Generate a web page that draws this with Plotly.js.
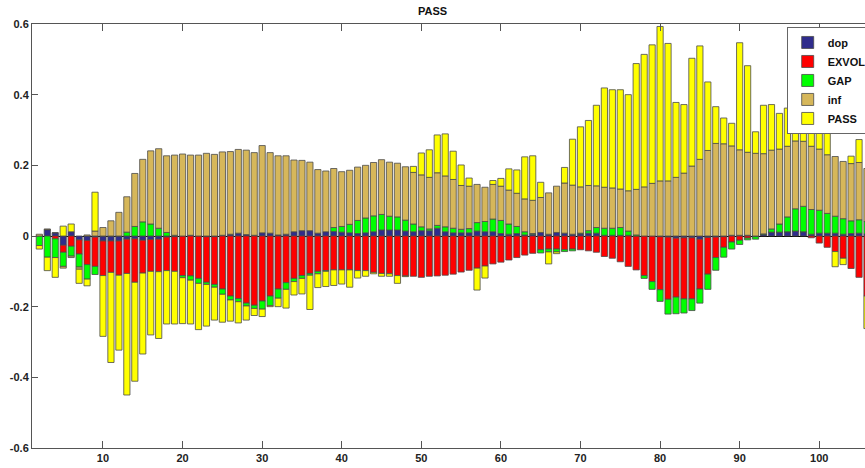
<!DOCTYPE html>
<html>
<head>
<meta charset="utf-8">
<script src="https://cdn.plot.ly/plotly-3.0.1.min.js"></script>
<style>html,body{margin:0;padding:0;background:#fff;}#chart{width:865px;height:468px;}</style>
</head>
<body>
<div id="chart"></div>
<script>
// x positions 2..106
const xStart = 2;
const dop = [0,0.018,0.009,-0.026,0.012,-0.011,-0.013,-0.003,-0.014,-0.014,-0.014,-0.009,-0.008,-0.012,-0.01,-0.009,-0.003,-0.002,0,0.002,0,-0.002,-0.002,0.002,0.005,0.008,0.004,0.002,0.009,0.008,0.003,0.005,0.012,0.015,0.015,0.008,0.012,0.013,0.011,0.009,0.007,0.009,0.012,0.017,0.017,0.017,0.014,0.012,0.015,0.015,0.022,0.012,0.009,0.009,0.009,0.014,0.012,0.012,0.007,0.005,0.007,0.003,0.005,0.01,0.005,0.01,0.008,0.005,0.006,0.008,0.008,0.002,0.002,0.002,0.002,0,0,0,-0.002,-0.003,-0.006,-0.005,-0.005,-0.009,-0.004,-0.003,-0.002,0.002,0.002,0.002,-0.002,0.004,0.011,0.011,0.012,0.014,0.012,0.005,0.008,0.008,0.008,0.005,0.007,0.008,0.006];
const exvol = [0,0,-0.008,-0.02,-0.029,-0.04,-0.068,-0.083,-0.098,-0.089,-0.097,-0.097,-0.123,-0.093,-0.09,-0.092,-0.095,-0.098,-0.112,-0.113,-0.12,-0.129,-0.135,-0.15,-0.17,-0.177,-0.19,-0.196,-0.184,-0.17,-0.15,-0.132,-0.12,-0.112,-0.106,-0.1,-0.098,-0.096,-0.096,-0.096,-0.098,-0.098,-0.103,-0.106,-0.107,-0.112,-0.113,-0.114,-0.117,-0.114,-0.113,-0.111,-0.108,-0.102,-0.097,-0.091,-0.085,-0.079,-0.074,-0.068,-0.061,-0.054,-0.049,-0.039,-0.037,-0.037,-0.039,-0.037,-0.039,-0.042,-0.046,-0.058,-0.063,-0.073,-0.086,-0.096,-0.112,-0.129,-0.15,-0.176,-0.167,-0.173,-0.173,-0.141,-0.104,-0.058,-0.03,-0.017,-0.012,-0.006,0,0,0,0,0,0,0,-0.005,-0.02,-0.032,-0.044,-0.063,-0.092,-0.117,-0.17];
const gap = [-0.027,-0.06,-0.053,-0.04,-0.028,-0.037,-0.041,-0.023,0,0,0,0.011,0.027,0.04,0.034,0.022,0.01,0.002,-0.006,-0.012,-0.014,-0.006,-0.008,-0.015,-0.011,-0.009,-0.008,-0.009,-0.023,-0.027,-0.026,-0.019,-0.009,-0.008,-0.005,-0.007,-0.002,0.011,0.016,0.024,0.037,0.042,0.045,0.044,0.039,0.037,0.031,0.022,0.011,0.005,0.008,0.014,0.013,0.01,0.012,0.024,0.029,0.036,0.037,0.029,0.02,0.009,0.002,-0.009,-0.008,-0.008,-0.005,-0.005,0.002,0.007,0.016,0.02,0.02,0.022,0.012,0.003,-0.008,-0.022,-0.033,-0.042,-0.047,-0.04,-0.033,-0.04,-0.043,-0.036,-0.028,-0.02,-0.012,-0.005,-0.007,0.002,0.009,0.023,0.042,0.063,0.072,0.07,0.065,0.056,0.048,0.044,0.036,0.038,0.035];
const inf = [0.005,0.002,0,-0.005,-0.004,-0.006,0.003,0.014,0.024,0.043,0.067,0.1,0.15,0.177,0.207,0.225,0.217,0.227,0.232,0.227,0.229,0.234,0.231,0.236,0.234,0.237,0.239,0.234,0.247,0.228,0.224,0.222,0.203,0.199,0.194,0.18,0.172,0.167,0.155,0.153,0.151,0.149,0.151,0.155,0.153,0.152,0.151,0.146,0.147,0.146,0.149,0.144,0.138,0.124,0.12,0.108,0.097,0.098,0.097,0.096,0.094,0.093,0.094,0.099,0.117,0.131,0.142,0.139,0.131,0.128,0.118,0.116,0.114,0.109,0.114,0.129,0.139,0.149,0.156,0.156,0.166,0.178,0.198,0.217,0.242,0.262,0.261,0.253,0.242,0.235,0.234,0.227,0.223,0.212,0.2,0.192,0.184,0.179,0.173,0.166,0.169,0.162,0.162,0.162,0.15];
const pass = [-0.01,-0.038,-0.056,0.028,0.022,-0.04,-0.019,0.11,-0.172,-0.255,-0.212,-0.344,-0.28,-0.229,-0.18,-0.189,-0.151,-0.149,-0.13,-0.124,-0.131,-0.118,-0.093,-0.079,-0.06,-0.06,-0.04,-0.02,-0.021,-0.003,-0.024,-0.053,-0.038,-0.044,-0.097,-0.039,-0.043,-0.044,-0.04,-0.049,-0.021,-0.016,-0.004,-0.008,-0.007,-0.022,-0.002,0.017,0.062,0.078,0.107,0.119,0.08,0.058,0.023,-0.062,-0.034,0.011,0.022,0.06,0.066,0.119,0.126,0.043,-0.034,-0.005,0.044,0.13,0.17,0.184,0.228,0.281,0.278,0.281,0.272,0.356,0.375,0.392,0.437,0.389,0.212,0.194,0.305,0.321,0.194,0.104,0.073,0.064,0.303,0.245,0.061,0.137,0.129,0.101,0.108,0.082,0.09,0.113,0.12,0.136,-0.043,-0.018,0.021,0.065,-0.092];
const seriesNames = ['dop','EXVOL','GAP','inf','PASS'];
const seriesColors = ['#2f2c8c','#ff0000','#00ff00','#d6b75a','#ffff00'];
const xTicks = [10,20,30,40,50,60,70,80,90,100];
const yTicks = [-0.6,-0.4,-0.2,0,0.2,0.4,0.6];

const xs = dop.map((_, i) => xStart + i);
const allSeries = [dop, exvol, gap, inf, pass];
const traces = allSeries.map((vals, k) => ({
  type: 'bar',
  x: xs,
  y: vals,
  name: seriesNames[k],
  marker: {color: seriesColors[k], line: {color: '#4a4a4a', width: 0.8}},
  hoverinfo: 'x+y+name'
}));

const tickFont = {family: 'Liberation Sans Narrow, Liberation Sans, Arial, sans-serif', size: 11, color: '#222', weight: 'bold'};
const layout = {
  width: 865, height: 468,
  margin: {l: 32, r: 0, t: 24, b: 20, pad: 0, autoexpand: false},
  paper_bgcolor: '#ffffff', plot_bgcolor: '#ffffff',
  barmode: 'relative',
  bargap: 0.22,
  showlegend: true,
  title: {text: 'PASS', x: 0.5, xanchor: 'center', y: 0.985, yanchor: 'top',
          font: {family: 'Liberation Sans, Arial, sans-serif', size: 11, color: '#111', weight: 'bold'}},
  xaxis: {
    range: [1.08, 105.75], tickvals: xTicks, ticktext: xTicks.map(String),
    showgrid: false, zeroline: false, showline: true, linecolor: '#555', linewidth: 1,
    mirror: 'ticks', ticks: 'inside', ticklen: 7, tickcolor: '#555', tickfont: tickFont,
    fixedrange: true
  },
  yaxis: {
    range: [-0.6, 0.6], tickvals: yTicks, ticktext: yTicks.map(v => v === 0 ? '0' : String(v)),
    showgrid: false, zeroline: true, zerolinecolor: '#000', zerolinewidth: 1,
    showline: true, linecolor: '#555', linewidth: 1, mirror: false,
    ticks: 'inside', ticklen: 6, tickcolor: '#555', tickfont: tickFont, layer: 'above traces',
    fixedrange: true
  },
  legend: {
    x: 0.906, y: 0.993, xanchor: 'left', yanchor: 'top',
    bgcolor: '#ffffff', bordercolor: '#666', borderwidth: 1,
    traceorder: 'normal',
    font: {family: 'Liberation Sans Narrow, Liberation Sans, Arial, sans-serif', size: 11, color: '#111', weight: 'bold'},
    itemwidth: 30, tracegroupgap: 0
  }
};
Plotly.newPlot('chart', traces, layout, {displayModeBar: false, staticPlot: true});
</script>
</body>
</html>
